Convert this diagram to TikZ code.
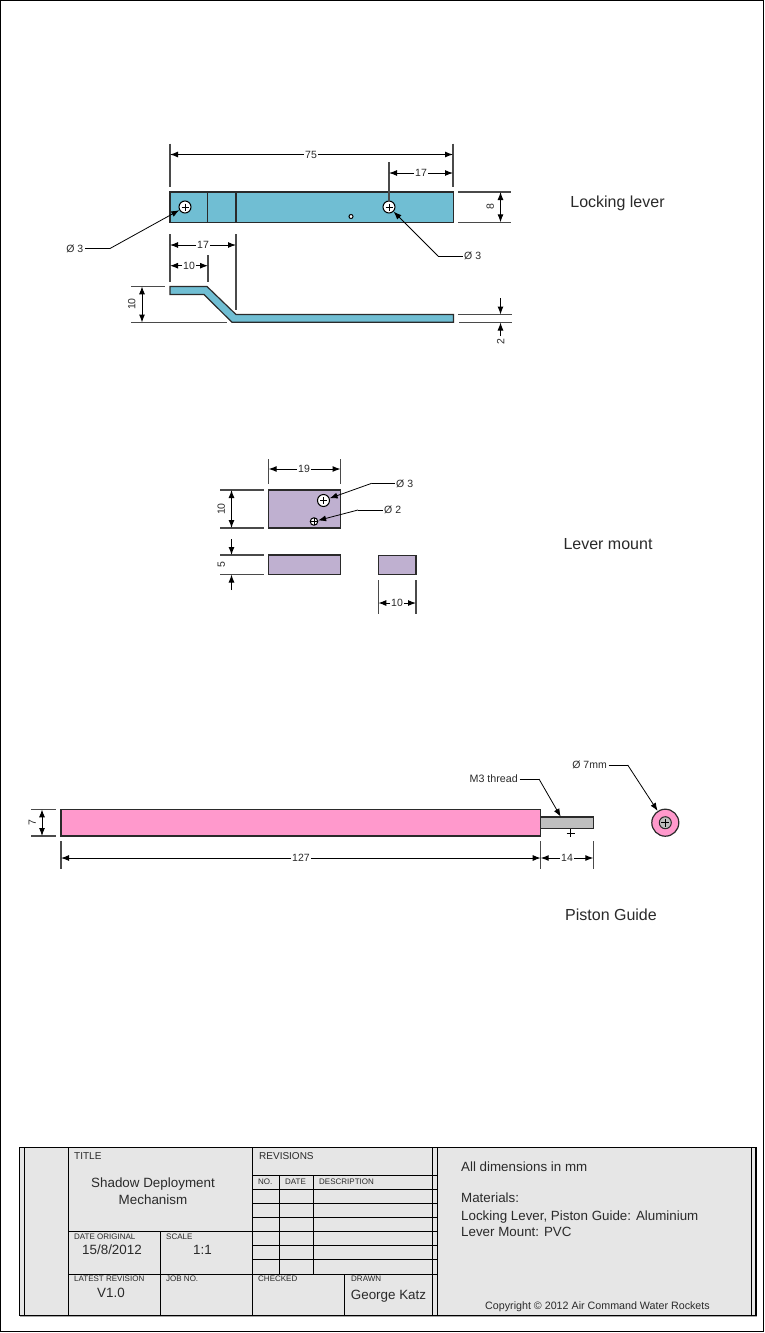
\documentclass[tikz,border=0pt]{standalone}
\usepackage{fontspec}
\setmainfont{Liberation Sans}
\usetikzlibrary{arrows.meta}
\definecolor{leverblue}{HTML}{70BED3}
\definecolor{mountlilac}{HTML}{BFB0D0}
\definecolor{guidepink}{HTML}{FF99CC}
\definecolor{threadgray}{HTML}{BFBFBF}
\definecolor{blockgray}{HTML}{E6E6E6}
\definecolor{extgray}{HTML}{4A4A4A}
\definecolor{inkgray}{HTML}{2A2A2A}
\tikzset{
  txt/.style={font=\fontsize{#1}{#1}\selectfont, text height={0.72*#1 pt}, text depth=0pt, inner sep=0pt, text=inkgray},
  dimtxt/.style={txt=10.5, inner xsep=0.8pt, inner ysep=2pt},
  sidetxt/.style={txt=10.5, rotate=90},
  leadtxt/.style={txt=10.5, inner xsep=1.5pt},
  capt/.style={txt=16},
  tiny/.style={txt=8, anchor=west},
  head/.style={txt=10, anchor=west},
  big/.style={txt=13.4},
  note/.style={txt=13.35, anchor=west},
  dimarrow/.style={line width=1pt, color=black, -{Latex[length=8pt,width=6pt]}},
  bothdim/.style={line width=1pt, color=black, {Latex[length=8pt,width=6pt]}-{Latex[length=8pt,width=6pt]}},
  extline/.style={line width=1.2pt, color=extgray},
  leader/.style={line width=0.8pt, color=black, -{Latex[length=8pt,width=6pt]}},
  outline/.style={line width=1.2pt, draw=inkgray},
  grid/.style={line width=1pt, color=black},
  hole/.style={circle, draw=black, line width=1pt, fill=white, minimum size=#1, inner sep=0pt},
}
\newcommand\hdim[6]{%
  \node[dimtxt] (#1) at (#5,#4) {#6};
  \coordinate (#1a) at (#2,#4);
  \coordinate (#1b) at (#3,#4);
  \draw[dimarrow] (#1) -- (#1a);
  \draw[dimarrow] (#1) -- (#1b);
}
\newcommand\crosshair[2]{%
  \draw[line width=0.8pt,black] (#1)++(-#2,0) -- ++(2*#2,0);
  \draw[line width=0.8pt,black] (#1)++(0,-#2) -- ++(0,2*#2);
}
\begin{document}
\begin{tikzpicture}[x=1pt,y=-1pt]
\useasboundingbox (0,0) rectangle (764,1333);
\fill[white] (0,0) rectangle (764,1333);
\draw[line width=1pt,black] (0.5,0.5) rectangle (763.5,1331.5);

% ---------- Locking lever, top view
\draw[outline,fill=leverblue] (170,192) rectangle (453.5,222.3);
\draw[outline] (207.7,192) -- (207.7,222.3);
\draw[outline] (236,192) -- (236,222.3);
\node[hole=12pt] (holeL) at (185,207) {};
\crosshair{holeL}{3.5}
\node[hole=12pt] (holeR) at (389,207) {};
\crosshair{holeR}{3.5}
\node[hole=4pt] (holeS) at (351,216.5) {};

% ---------- Locking lever, side view
\draw[outline,fill=leverblue] (170,286.5) -- (207,286.5) -- (236,314.5) -- (453.5,314.5) -- (453.5,322.3) -- (232,322.3) -- (204,294.5) -- (170,294.5) -- cycle;

% extension lines
\draw[extline] (170,143.5) -- (170,187);
\draw[extline] (453,143.5) -- (453,187);
\coordinate (e17top) at (389,162);
\draw[extline] (e17top) -- (holeR);
\draw[extline] (458,192) -- (511,192);
\draw[extline] (458,222.3) -- (511,222.3);
\draw[extline] (170,234) -- (170,282);
\draw[extline] (236,234) -- (236,310);
\draw[extline] (208,255) -- (208,282);
\draw[extline] (131,286.3) -- (165,286.3);
\draw[extline] (131,322.5) -- (227,322.5);
\draw[extline] (458,314.5) -- (512,314.5);
\draw[extline] (459,322.5) -- (512,322.5);

% dimensions
\hdim{dA}{170}{453}{154.5}{311}{75}
\hdim{dB}{389}{453}{173}{421}{17}
\hdim{dC}{170}{236}{245}{203}{17}
\hdim{dD}{170}{208}{265.7}{189}{10}
\coordinate (vAa) at (500.5,192);
\coordinate (vAb) at (500.5,222.3);
\draw[bothdim] (vAa) -- (vAb);
\node[sidetxt] (vAt) at (490,207) {8};
\coordinate (vBa) at (142,286.3);
\coordinate (vBb) at (142,322.5);
\draw[bothdim] (vBa) -- (vBb);
\node[sidetxt] (vBt) at (131.5,304) {10};
\coordinate (vCa) at (500.5,298);
\coordinate (vCb) at (500.5,314.5);
\draw[dimarrow] (vCa) -- (vCb);
\node[sidetxt] (vCt) at (500.5,341.5) {2};
\coordinate (vCd) at (500.5,336);
\coordinate (vCc) at (500.5,322.5);
\draw[dimarrow] (vCd) -- (vCc);

% leaders
\node[leadtxt,anchor=east] (lA) at (85,248.5) {Ø 3};
\coordinate (lAk) at (110,248.5);
\draw[line width=0.8pt] (lA) -- (lAk);
\draw[leader] (lAk) -- (holeL);
\node[leadtxt,anchor=west] (lB) at (462.5,256) {Ø 3};
\coordinate (lBk) at (438,256);
\draw[line width=0.8pt] (lB) -- (lBk);
\draw[leader] (lBk) -- (holeR);
\node[capt] (capA) at (617.5,202) {Locking lever};

% ---------- Lever mount
\draw[outline,fill=mountlilac] (268.7,490) rectangle (340.5,528);
\draw[outline,fill=mountlilac] (268.7,555) rectangle (340.5,574.5);
\draw[outline,fill=mountlilac] (378.3,555.5) rectangle (416,574.5);
\node[hole=12pt] (holeM) at (323.5,500.5) {};
\crosshair{holeM}{3.5}
\node[hole=7.5pt] (holeN) at (314,521.5) {};
\crosshair{holeN}{3.7}
\draw[extline] (268.7,459) -- (268.7,484);
\draw[extline] (340.5,459) -- (340.5,484);
\draw[extline] (220,490) -- (264,490);
\draw[extline] (220,528) -- (264,528);
\draw[extline] (220,555) -- (264,555);
\draw[extline] (220,574.5) -- (264,574.5);
\draw[extline] (378.3,580) -- (378.3,614);
\draw[extline] (416,580) -- (416,614);
\hdim{dE}{268.7}{340.5}{469}{304}{19}
\hdim{dF}{378.3}{416}{603}{397}{10}
\coordinate (vDa) at (231.5,490);
\coordinate (vDb) at (231.5,528);
\draw[bothdim] (vDa) -- (vDb);
\node[sidetxt] (vDt) at (221,509) {10};
\coordinate (vEa) at (231.5,539);
\coordinate (vEb) at (231.5,555);
\draw[dimarrow] (vEa) -- (vEb);
\coordinate (vEc) at (231.5,590);
\coordinate (vEd) at (231.5,574.5);
\draw[dimarrow] (vEc) -- (vEd);
\node[sidetxt] (vEt) at (221,564.5) {5};
\node[leadtxt,anchor=west] (lC) at (394.5,483.3) {Ø 3};
\coordinate (lCk) at (371.7,483.3);
\draw[line width=0.8pt] (lC) -- (lCk);
\draw[leader] (lCk) -- (holeM);
\node[leadtxt,anchor=west] (lD) at (382.5,510) {Ø 2};
\coordinate (lDk) at (358,510);
\draw[line width=0.8pt] (lD) -- (lDk);
\draw[leader] (lDk) -- (holeN);
\node[capt] (capB) at (608,544) {Lever mount};

% ---------- Piston guide
\draw[outline,fill=guidepink] (61,809.3) rectangle (540.7,836);
\draw[outline,fill=threadgray] (540.7,817) rectangle (593.3,828.7);
\coordinate (threadCross) at (570.7,833.3);
\crosshair{threadCross}{4}
\node[circle,draw=inkgray,line width=1.2pt,fill=guidepink,minimum size=27pt,inner sep=0pt] (endview) at (665.3,822.7) {};
\node[circle,draw=inkgray,line width=1pt,fill=threadgray,minimum size=12pt,inner sep=0pt] (endbore) at (665.3,822.7) {};
\crosshair{endbore}{4}
\draw[extline] (31,809.3) -- (56,809.3);
\draw[extline] (31,836) -- (56,836);
\draw[extline] (61,841) -- (61,869);
\draw[extline] (540.7,841) -- (540.7,869);
\draw[extline] (593.3,841) -- (593.3,869);
\hdim{dG}{61}{540.7}{858}{301}{127}
\hdim{dH}{540.7}{593.3}{858}{567}{14}
\coordinate (vFa) at (42,809.3);
\coordinate (vFb) at (42,836);
\draw[bothdim] (vFa) -- (vFb);
\node[sidetxt] (vFt) at (32,822.5) {7};
\node[leadtxt,txt=10.7,inner xsep=1.5pt,anchor=east] (lE) at (519.5,779) {M3 thread};
\coordinate (lEk) at (539,779);
\coordinate (lEt) at (560.7,816.7);
\draw[line width=0.8pt] (lE) -- (lEk);
\draw[leader] (lEk) -- (lEt);
\node[leadtxt,anchor=east] (lF) at (608.5,765) {Ø 7mm};
\coordinate (lFk) at (627.7,765);
\draw[line width=0.8pt] (lF) -- (lFk);
\draw[leader] (lFk) -- (endview);
\node[capt] (capC) at (611,915) {Piston Guide};

% ---------- Title block
\fill[black!35] (20.3,1148.3) rectangle (757,1316.7);
\fill[blockgray] (19.3,1147.3) rectangle (756,1315.7);
\foreach \x in {24,68.7,160.7,252.5,432.3,437.3,751} {
  \ifdim\x pt=160.7pt\relax
    \draw[grid] (\x,1231.7) -- (\x,1315.7);
  \else
    \draw[grid] (\x,1147.3) -- (\x,1315.7);
  \fi
}
\draw[grid] (279.3,1175.3) -- (279.3,1274);
\draw[grid] (313.3,1175.3) -- (313.3,1274);
\draw[grid] (344.3,1274) -- (344.3,1315.7);
\draw[grid] (68.7,1231.7) -- (252.5,1231.7);
\draw[grid] (68.7,1274) -- (437.3,1274);
\foreach \y in {1175.3,1189.3,1203.3,1217.3,1231.7,1245.7,1259.7} {
  \draw[grid] (252.5,\y) -- (437.3,\y);
}
\draw[line width=1.2pt,black] (19.3,1147.3) rectangle (756,1315.7);

\node[head] (tTitle) at (74,1155.5) {TITLE};
\node[head] (tRev) at (259,1155.5) {REVISIONS};
\node[big] (tName1) at (153,1183) {Shadow Deployment};
\node[big] (tName2) at (153,1199.5) {Mechanism};
\node[tiny] (tDate) at (74,1237) {DATE ORIGINAL};
\node[tiny] (tScale) at (166,1237) {SCALE};
\node[big] (vDate) at (112,1250) {15/8/2012};
\node[big] (vScale) at (202.5,1250) {1:1};
\node[tiny] (tLatest) at (74,1279) {LATEST REVISION};
\node[tiny] (tJob) at (166,1279) {JOB NO.};
\node[big] (vRev) at (111,1293) {V1.0};
\node[tiny] (tNo) at (258,1182) {NO.};
\node[tiny] (tDt) at (285,1182) {DATE};
\node[tiny] (tDesc) at (319,1182) {DESCRIPTION};
\node[tiny] (tChecked) at (258,1279) {CHECKED};
\node[tiny] (tDrawn) at (351,1279) {DRAWN};
\node[big] (vDrawn) at (388.5,1295) {George Katz};
\node[note] (n1) at (461,1167) {All dimensions in mm};
\node[note] (n2) at (461,1198) {Materials:};
\node[note] (n3) at (461,1215.5) {Locking Lever, Piston Guide: Aluminium};
\node[note] (n4) at (461,1232) {Lever Mount: PVC};
\node[txt=10.7] (n5) at (597.5,1306) {Copyright © 2012 Air Command Water Rockets};
\end{tikzpicture}
\end{document}
